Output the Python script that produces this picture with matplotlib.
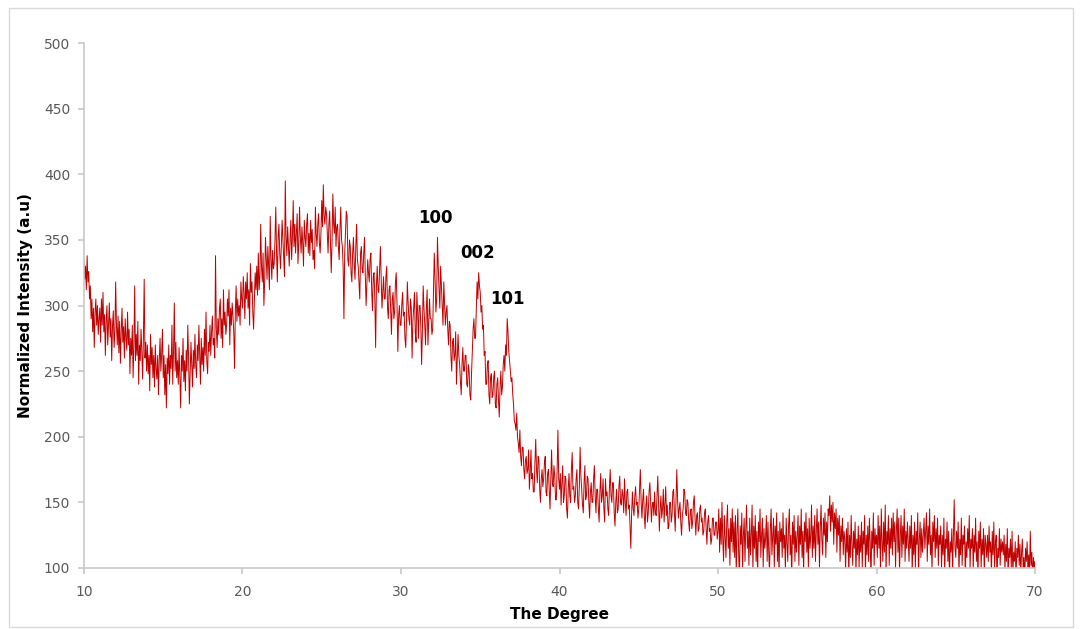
import matplotlib.pyplot as plt
import numpy as np
from matplotlib.patches import Rectangle

# intensity, one row per degree (0.05 degree steps)
rows = [
    [335, 320, 330, 312, 338, 318, 326, 305, 315, 290, 305, 280, 298, 268, 295, 305, 285, 300, 278, 290],  # 10
    [298, 272, 305, 285, 310, 280, 293, 262, 288, 300, 270, 285, 302, 276, 290, 258, 284, 296, 268, 280],  # 11
    [318, 285, 270, 292, 264, 288, 256, 280, 298, 272, 284, 260, 290, 276, 266, 295, 270, 282, 248, 275],  # 12
    [262, 285, 245, 270, 315, 258, 278, 262, 288, 240, 270, 258, 282, 265, 244, 275, 320, 260, 272, 250],  # 13
    [270, 248, 262, 235, 278, 255, 268, 245, 262, 238, 270, 252, 244, 262, 232, 258, 275, 250, 262, 282],  # 14
    [245, 262, 232, 255, 222, 260, 248, 270, 240, 262, 252, 285, 240, 265, 302, 250, 272, 245, 258, 240],  # 15
    [268, 245, 222, 262, 250, 275, 242, 258, 235, 266, 250, 285, 260, 225, 248, 272, 255, 238, 266, 252],  # 16
    [278, 255, 245, 270, 258, 285, 262, 240, 275, 255, 268, 250, 282, 262, 295, 258, 248, 272, 265, 285],  # 17
    [262, 280, 292, 270, 275, 260, 338, 282, 268, 290, 278, 298, 305, 275, 290, 268, 312, 285, 295, 278],  # 18
    [285, 305, 292, 312, 270, 298, 285, 302, 292, 280, 252, 295, 315, 288, 305, 292, 300, 285, 318, 305],  # 19
    [298, 322, 310, 290, 318, 305, 325, 298, 312, 285, 332, 310, 318, 295, 282, 305, 325, 312, 330, 308],  # 20
    [340, 312, 322, 362, 330, 318, 340, 300, 318, 352, 335, 320, 345, 330, 312, 368, 335, 320, 342, 328],  # 21
    [332, 350, 375, 340, 318, 352, 362, 340, 328, 345, 365, 350, 335, 322, 395, 352, 338, 360, 345, 330],  # 22
    [350, 365, 335, 352, 380, 345, 362, 340, 355, 370, 332, 348, 375, 352, 340, 360, 348, 330, 365, 352],  # 23
    [345, 362, 370, 340, 355, 338, 365, 348, 358, 335, 342, 328, 375, 355, 345, 362, 370, 348, 340, 355],  # 24
    [380, 360, 392, 368, 362, 375, 370, 355, 340, 362, 372, 350, 325, 348, 385, 362, 355, 375, 345, 360],  # 25
    [362, 345, 335, 358, 375, 350, 345, 330, 290, 340, 355, 372, 368, 335, 330, 350, 345, 325, 318, 340],  # 26
    [352, 332, 320, 345, 362, 335, 330, 318, 305, 340, 345, 328, 325, 340, 352, 322, 300, 318, 335, 325],  # 27
    [318, 335, 340, 312, 296, 322, 325, 305, 268, 315, 330, 312, 310, 328, 345, 320, 298, 310, 322, 305],  # 28
    [305, 322, 330, 298, 290, 312, 315, 296, 278, 305, 310, 290, 295, 318, 325, 300, 265, 292, 300, 285],  # 29
    [285, 300, 310, 292, 295, 275, 268, 290, 318, 302, 290, 285, 305, 298, 260, 288, 298, 310, 280, 272],  # 30
    [310, 295, 275, 300, 300, 285, 255, 280, 315, 298, 285, 270, 298, 312, 270, 288, 305, 290, 290, 278],  # 31
    [282, 310, 340, 320, 295, 305, 352, 330, 312, 298, 330, 315, 300, 285, 318, 302, 285, 295, 300, 282],  # 32
    [270, 288, 285, 262, 250, 272, 275, 258, 262, 280, 240, 258, 278, 262, 255, 242, 232, 255, 268, 250],  # 33
    [250, 262, 262, 240, 238, 255, 250, 232, 228, 248, 265, 282, 290, 275, 275, 298, 318, 305, 325, 315],  # 34
    [310, 295, 300, 282, 285, 262, 265, 240, 240, 255, 258, 232, 225, 245, 248, 230, 232, 245, 250, 225],  # 35
    [222, 240, 245, 228, 215, 238, 250, 232, 238, 255, 262, 250, 270, 262, 290, 280, 265, 258, 250, 242],  # 36
    [245, 232, 225, 212, 210, 205, 218, 200, 195, 188, 205, 185, 178, 192, 192, 175, 168, 182, 185, 172],  # 37
    [175, 190, 160, 172, 190, 168, 172, 158, 158, 180, 198, 175, 165, 185, 182, 160, 150, 168, 175, 162],  # 38
    [168, 180, 185, 158, 155, 172, 175, 160, 145, 168, 190, 165, 162, 178, 170, 152, 152, 175, 205, 168],  # 39
    [160, 172, 148, 165, 178, 150, 155, 170, 168, 145, 138, 160, 172, 155, 150, 175, 188, 160, 162, 150],  # 40
    [155, 168, 175, 150, 145, 162, 192, 170, 160, 148, 142, 165, 178, 152, 155, 170, 168, 150, 138, 158],  # 41
    [165, 150, 150, 168, 178, 155, 142, 160, 160, 145, 135, 158, 172, 150, 155, 168, 145, 135, 168, 155],  # 42
    [158, 145, 140, 162, 175, 155, 150, 165, 165, 142, 132, 150, 160, 142, 145, 162, 170, 150, 148, 160],  # 43
    [155, 142, 168, 150, 140, 158, 160, 145, 148, 132, 115, 142, 158, 145, 140, 155, 162, 148, 150, 138],  # 44
    [145, 160, 175, 150, 138, 152, 160, 140, 130, 148, 155, 135, 142, 158, 165, 150, 135, 148, 150, 140],  # 45
    [158, 142, 140, 155, 170, 148, 128, 145, 155, 138, 145, 160, 135, 148, 162, 140, 148, 130, 132, 150],  # 46
    [150, 135, 140, 158, 160, 142, 128, 150, 175, 152, 138, 145, 150, 135, 125, 140, 145, 160, 158, 142],  # 47
    [140, 152, 150, 135, 128, 142, 145, 130, 135, 150, 155, 138, 125, 140, 142, 128, 130, 145, 148, 135],  # 48
    [138, 125, 128, 142, 145, 130, 118, 135, 140, 128, 130, 118, 122, 138, 138, 125, 125, 135, 135, 122],  # 49
    [128, 145, 112, 138, 118, 150, 122, 105, 140, 125, 108, 135, 148, 115, 130, 102, 138, 120, 145, 112],  # 50
    [135, 108, 140, 95, 128, 145, 112, 90, 132, 118, 142, 100, 125, 138, 105, 130, 148, 115, 128, 102],    # 51
    [138, 110, 125, 148, 98, 132, 115, 140, 105, 128, 92, 135, 120, 145, 108, 125, 138, 100, 130, 115],    # 52
    [122, 140, 105, 135, 112, 95, 130, 145, 110, 125, 138, 100, 132, 118, 142, 105, 128, 92, 135, 120],    # 53
    [130, 108, 142, 115, 125, 98, 138, 120, 105, 132, 145, 110, 125, 90, 135, 118, 140, 105, 128, 112],    # 54
    [125, 140, 102, 132, 118, 145, 108, 128, 95, 135, 120, 142, 112, 130, 100, 138, 115, 125, 148, 108],   # 55
    [132, 115, 140, 105, 128, 145, 118, 135, 100, 130, 148, 122, 110, 138, 125, 142, 108, 135, 120, 145],  # 56
    [140, 155, 128, 148, 135, 150, 118, 142, 130, 145, 112, 138, 125, 140, 105, 132, 120, 138, 110, 128],  # 57
    [122, 98, 130, 112, 135, 92, 125, 108, 140, 118, 102, 128, 115, 135, 95, 122, 110, 132, 100, 125],     # 58
    [112, 135, 100, 128, 118, 140, 95, 125, 110, 132, 105, 138, 120, 90, 128, 115, 142, 102, 130, 118],    # 59
    [125, 108, 140, 115, 132, 98, 145, 120, 105, 135, 112, 148, 95, 128, 118, 140, 102, 130, 115, 138],    # 60
    [110, 142, 120, 135, 100, 128, 145, 112, 138, 95, 125, 140, 108, 132, 118, 145, 105, 128, 115, 135],   # 61
    [120, 105, 132, 115, 140, 95, 125, 110, 135, 100, 128, 118, 142, 92, 122, 135, 108, 130, 112, 125],    # 62
    [138, 115, 128, 142, 105, 132, 118, 145, 110, 125, 98, 135, 120, 140, 108, 130, 115, 138, 102, 125],   # 63
    [118, 132, 100, 125, 110, 138, 95, 122, 115, 135, 105, 128, 90, 120, 112, 130, 98, 125, 152, 115],     # 64
    [108, 128, 115, 135, 95, 122, 110, 138, 102, 125, 118, 132, 92, 120, 108, 130, 115, 140, 100, 122],    # 65
    [115, 130, 98, 125, 112, 138, 105, 120, 92, 128, 115, 135, 100, 122, 110, 130, 95, 125, 118, 108],     # 66
    [125, 105, 132, 112, 120, 95, 128, 110, 135, 100, 118, 125, 90, 115, 108, 130, 102, 122, 112, 120],    # 67
    [110, 125, 98, 118, 105, 130, 92, 115, 108, 122, 100, 128, 95, 112, 105, 120, 90, 115, 108, 125],      # 68
    [102, 118, 95, 112, 122, 100, 108, 92, 115, 105, 120, 98, 110, 95, 128, 102, 112, 90, 108, 100],       # 69
    [105],                                                                                                 # 70
]
intensity = [v for r in rows for v in r]
degree = np.linspace(10, 70, len(intensity))

peak_labels = ['100', '002', '101']
peak_pos = [32.2, 34.8, 36.7]
peak_top = [352, 325, 290]

fig = plt.figure(figsize=(10.82, 6.29), dpi=100)
ax = fig.add_axes([0.0776, 0.097, 0.879, 0.8345])
ax.plot(degree, intensity, color='#C00000', linewidth=0.7)

ax.set_xlim(10, 70)
ax.set_ylim(100, 500)
ax.set_xticks(range(10, 71, 10))
ax.set_yticks(range(100, 501, 50))

for s in ['top', 'right']:
    ax.spines[s].set_visible(False)
for s in ['left', 'bottom']:
    ax.spines[s].set_color('#c8c8c8')
    ax.spines[s].set_linewidth(1.2)
ax.tick_params(colors='#c8c8c8', labelcolor='#595959', labelsize=10, length=4, width=1.2)
ax.tick_params(axis='y', pad=6)
ax.tick_params(axis='x', pad=8)

ax.set_xlabel('The Degree', fontsize=11, fontweight='bold', labelpad=6)
ax.set_ylabel('Normalized Intensity (a.u)', fontsize=11, fontweight='bold', labelpad=8)

for lab, x, y in zip(peak_labels, peak_pos, peak_top):
    ax.text(x, y + 8, lab, fontsize=12, fontweight='bold', ha='center', va='bottom')

fig.patches.append(Rectangle((0.008, 0.003), 0.984, 0.985, transform=fig.transFigure,
                             fill=False, edgecolor='#d9d9d9', linewidth=1))

plt.savefig('out.png')
